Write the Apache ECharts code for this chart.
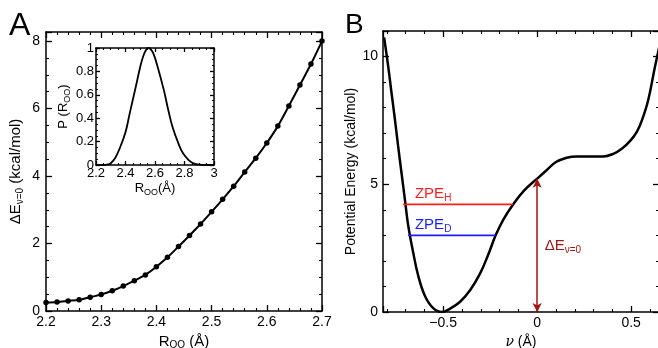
<!DOCTYPE html>
<html>
<head>
<meta charset="utf-8">
<script src="https://cdn.jsdelivr.net/npm/echarts@6/dist/echarts.min.js"></script>
<style>
  html, body { margin: 0; padding: 0; background: #fff; }
  #wrap { position: relative; width: 658px; height: 348px; }
  #main { width: 658px; height: 348px; }
  .tag { position: absolute; font-family: 'Liberation Sans', Arial, sans-serif; color: #000; line-height: 1; }
  .note { position: absolute; font-family: 'Liberation Sans', Arial, sans-serif; font-size: 15px; line-height: 18px; white-space: nowrap; }
  .note sub { font-size: 10px; vertical-align: -3px; }
</style>
</head>
<body>
<div id="wrap">
  <div id="main"></div>
  <div class="tag" style="left:9px;top:8px;font-size:32px;">A</div>
  <div class="tag" style="left:345px;top:10px;font-size:28px;">B</div>
  <div class="note" id="zpeH" style="color:#ff1c1c">ZPE<sub>H</sub></div>
  <div class="note" id="zpeD" style="color:#1c1cff">ZPE<sub>D</sub></div>
  <div class="note" id="dE0" style="color:#a01515">ΔE<sub>ν=0</sub></div>
</div>
<script>
// panel A: barrier vs O-O distance
const roo = [2.20, 2.22, 2.24, 2.26, 2.28, 2.30, 2.32, 2.34, 2.36, 2.38, 2.40, 2.42, 2.44,
  2.46, 2.48, 2.50, 2.52, 2.54, 2.56, 2.58, 2.60, 2.62, 2.64, 2.66, 2.68, 2.70];
const dE = [0.25, 0.27, 0.30, 0.33, 0.41, 0.49, 0.60, 0.74, 0.90, 1.07, 1.31, 1.59, 1.91,
  2.24, 2.58, 2.94, 3.31, 3.70, 4.12, 4.53, 4.98, 5.48, 6.08, 6.70, 7.32, 8.00];

// inset: distribution of R_OO
const pX = [2.20, 2.25, 2.28, 2.30, 2.33, 2.36, 2.40, 2.43, 2.47, 2.50, 2.52, 2.54, 2.555,
  2.57, 2.59, 2.62, 2.66, 2.69, 2.72, 2.76, 2.79, 2.83, 2.86, 2.90, 2.95, 3.00];
const pY = [0, 0, 0.005, 0.015, 0.06, 0.14, 0.28, 0.45, 0.67, 0.84, 0.93, 0.985, 1.0,
  0.99, 0.95, 0.83, 0.64, 0.47, 0.32, 0.18, 0.10, 0.04, 0.015, 0.003, 0, 0];

// panel B: potential along nu
const nu = [-0.814, -0.793, -0.775, -0.757, -0.74, -0.722, -0.704, -0.686, -0.66, -0.633,
  -0.598, -0.554, -0.507, -0.463, -0.41, -0.357, -0.304, -0.26, -0.221, -0.18, -0.128,
  -0.07, 0, 0.05, 0.10, 0.157, 0.21, 0.28, 0.35, 0.405, 0.45, 0.496, 0.53, 0.557, 0.59,
  0.626, 0.65];
const energy = [10.75, 9.65, 8.6, 7.56, 6.52, 5.47, 4.43, 3.39, 2.35, 1.43,
  0.65, 0.16, 0.0, 0.13, 0.40, 0.85, 1.50, 2.25, 3.0, 3.62, 4.21,
  4.75, 5.22, 5.55, 5.87, 6.04, 6.09, 6.09, 6.09, 6.19, 6.39, 6.71, 7.05, 7.5, 8.28,
  9.58, 10.4];

const zpeH = [[-0.713, 4.21], [-0.128, 4.21]];
const zpeD = [[-0.686, 3.0], [-0.221, 3.0]];
const barrier = [0, 5.22];
const zpeHLabel = [-0.65, 4.65];
const zpeDLabel = [-0.65, 3.46];
const barrierLabel = [0.04, 2.61];

const FONT = "'Liberation Sans', Arial, sans-serif";
const RED = "#ff1c1c", BLUE = "#1c1cff", DARKRED = "#a01515";

function niceLabel(step, minus) {
  return function (v) {
    const k = Math.round(v / step);
    if (Math.abs(v - k * step) > 1e-6) return "";
    const s = String(Math.round(v * 1000) / 1000);
    return minus ? s.replace("-", "\u2212") : s;
  };
}

function frameAxis(grid, cfg, position, withLabels) {
  const ax = {
    type: "value",
    gridIndex: grid,
    position: position,
    min: cfg.min,
    max: cfg.max,
    axisLine: { show: true, onZero: false, lineStyle: { color: "#000", width: 1.5 } },
    axisTick: { show: true, inside: true, length: cfg.tick || 6, lineStyle: { color: "#000", width: 1.3 } },
    minorTick: { show: true, splitNumber: cfg.minor, length: cfg.minorLen || 3, lineStyle: { color: "#000", width: 1.1 } },
    splitLine: { show: false },
    minorSplitLine: { show: false },
    axisLabel: { show: false },
  };
  if (cfg.interval != null) ax.interval = cfg.interval;
  if (cfg.splitNumber != null) ax.splitNumber = cfg.splitNumber;
  if (withLabels) {
    ax.axisLabel = {
      show: true, color: "#000", fontFamily: FONT, fontSize: cfg.fontSize || 14, margin: cfg.margin || 4,
      formatter: niceLabel(cfg.labelStep, cfg.minus),
    };
    ax.name = cfg.name;
    ax.nameLocation = "middle";
    ax.nameGap = cfg.nameGap;
    ax.nameTextStyle = { rich: cfg.rich };
  }
  return ax;
}

// one labelled axis plus a mirrored one with inward ticks only
function axisPair(kind, grid, cfg) {
  return kind === "x"
    ? [frameAxis(grid, cfg, "bottom", true), frameAxis(grid, cfg, "top", false)]
    : [frameAxis(grid, cfg, "left", true), frameAxis(grid, cfg, "right", false)];
}

function rich(size) {
  return {
    a: { fontSize: size, fontFamily: FONT, color: "#000", lineHeight: 18 },
    s: { fontSize: Math.round(size * 0.68), fontFamily: FONT, color: "#000", lineHeight: 10, verticalAlign: "bottom" },
    i: { fontSize: size, fontFamily: "'DejaVu Serif', serif", fontStyle: "italic", color: "#000", lineHeight: 18 },
  };
}

const xA = axisPair("x", 0, {
  min: 2.2, max: 2.7, interval: 0.1, minor: 5, labelStep: 0.1,
  name: "{a|R}{s|OO}{a| (Å)}", nameGap: 20, rich: rich(15),
});
const yA = axisPair("y", 0, {
  min: 0, max: 8.27, interval: 2, minor: 4, labelStep: 2, margin: 6,
  name: "{a|ΔE}{s|ν=0}{a| (kcal/mol)}", nameGap: 21, rich: rich(15),
});
const xI = axisPair("x", 1, {
  min: 2.2, max: 3.0, interval: 0.2, minor: 4, labelStep: 0.2, fontSize: 13, margin: 2, tick: 4, minorLen: 2,
  name: "{a|R}{s|OO}{a|(Å)}", nameGap: 14, rich: rich(13),
});
const yI = axisPair("y", 1, {
  min: 0, max: 1, interval: 0.2, minor: 4, labelStep: 0.2, fontSize: 13, margin: 2, tick: 4, minorLen: 2,
  name: "{a|P (R}{s|OO}{a|)}", nameGap: 6, rich: rich(13),
});
const xB = axisPair("x", 2, {
  min: -0.82, max: 0.648, splitNumber: 3, minor: 5, labelStep: 0.5, minus: true,
  name: "{i|ν}{a| (Å)}", nameGap: 20, rich: rich(14),
});
const yB = axisPair("y", 2, {
  min: 0, max: 11, interval: 5, minor: 5, labelStep: 5, margin: 5,
  name: "{a|Potential Energy (kcal/mol)}", nameGap: 6, rich: rich(14),
});

const chart = echarts.init(document.getElementById("main"));
chart.setOption({
  animation: false,
  backgroundColor: "#fff",
  grid: [
    { left: 46, top: 32, width: 276, height: 279, outerBoundsMode: "none" },
    { left: 96, top: 48, width: 118, height: 117, outerBoundsMode: "none" },
    { left: 383, top: 31, width: 276, height: 281, outerBoundsMode: "none" },
  ],
  xAxis: [xA[0], xA[1], xI[0], xI[1], xB[0], xB[1]],
  yAxis: [yA[0], yA[1], yI[0], yI[1], yB[0], yB[1]],
  series: [
    {
      type: "line", xAxisIndex: 0, yAxisIndex: 0,
      data: roo.map((r, i) => [r, dE[i]]),
      smooth: 0.3,
      symbol: "circle", symbolSize: 5.5,
      itemStyle: { color: "#000" },
      lineStyle: { color: "#000", width: 2 },
    },
    {
      type: "line", xAxisIndex: 2, yAxisIndex: 2,
      data: pX.map((r, i) => [r, pY[i]]),
      smooth: 0.4, showSymbol: false,
      lineStyle: { color: "#000", width: 1.8 },
    },
    {
      type: "line", xAxisIndex: 4, yAxisIndex: 4,
      data: nu.map((v, i) => [v, energy[i]]),
      smooth: 0.4, showSymbol: false,
      lineStyle: { color: "#000", width: 2.5 },
    },
    {
      type: "line", xAxisIndex: 4, yAxisIndex: 4, data: zpeH, showSymbol: false,
      lineStyle: { color: RED, width: 1.8 },
    },
    {
      type: "line", xAxisIndex: 4, yAxisIndex: 4, data: zpeD, showSymbol: false,
      lineStyle: { color: BLUE, width: 1.8 },
    },
    {
      type: "line", xAxisIndex: 4, yAxisIndex: 4, data: [],
      markLine: {
        symbol: ["arrow", "arrow"],
        symbolSize: [7, 9],
        label: { show: false },
        lineStyle: { color: DARKRED, width: 1.5, type: "solid" },
        data: [[{ coord: [0, barrier[0]] }, { coord: [0, barrier[1]] }]],
      },
    },
  ],
});

// place the annotation texts through panel B's scales
function placeNote(id, pos) {
  const p = chart.convertToPixel({ xAxisIndex: 4, yAxisIndex: 4 }, pos);
  const el = document.getElementById(id);
  el.style.left = p[0] + "px";
  el.style.top = (p[1] - 9) + "px";
}
placeNote("zpeH", zpeHLabel);
placeNote("zpeD", zpeDLabel);
placeNote("dE0", barrierLabel);
</script>
</body>
</html>
